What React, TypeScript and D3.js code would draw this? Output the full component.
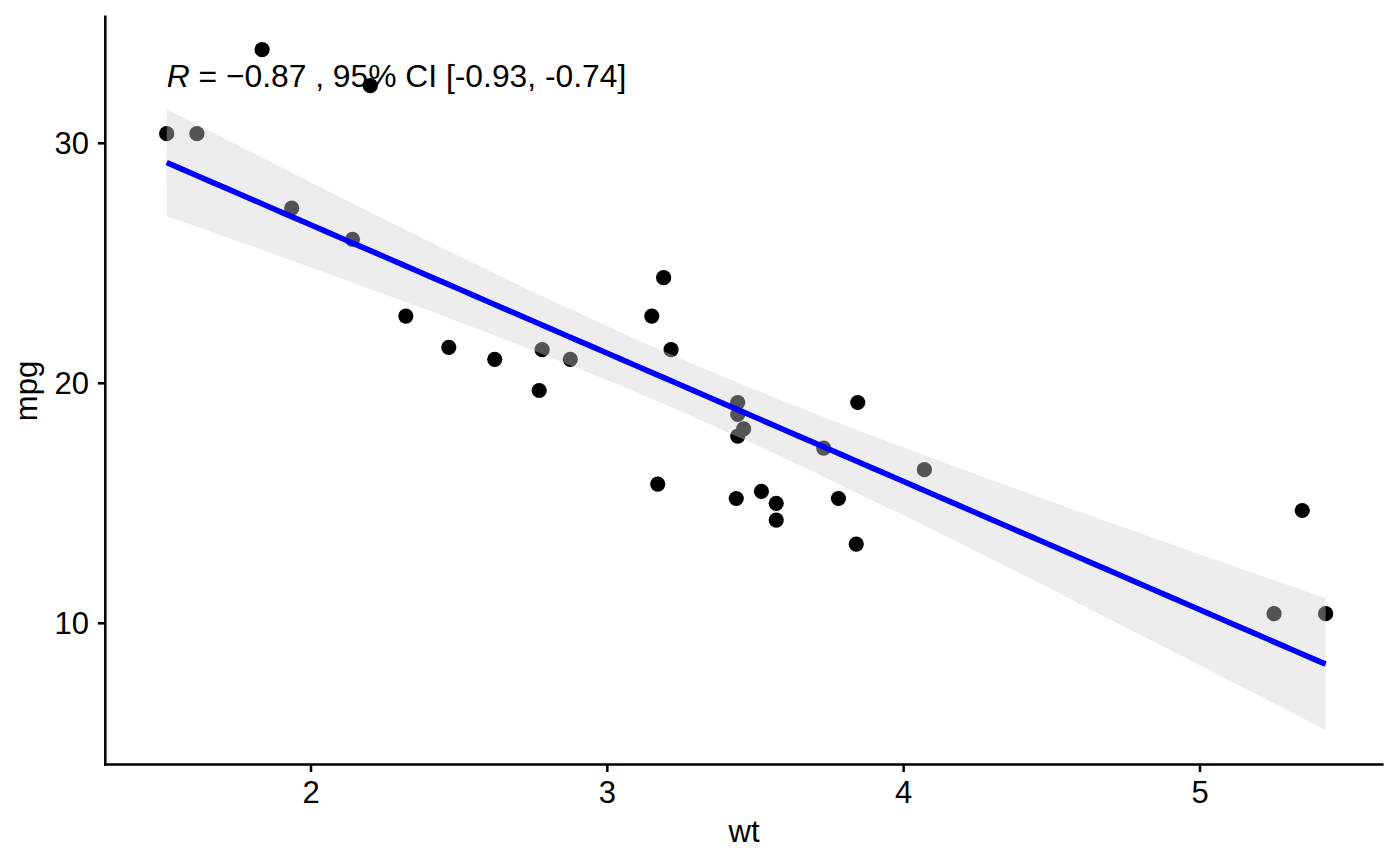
import React from "react";
import * as d3 from "d3";

const wt = [2.62, 2.875, 2.32, 3.215, 3.44, 3.46, 3.57, 3.19, 3.15, 3.44, 3.44, 4.07, 3.73, 3.78, 5.25, 5.424, 5.345, 2.2, 1.615, 1.835, 2.465, 3.52, 3.435, 3.84, 3.845, 1.935, 2.14, 1.513, 3.17, 2.77, 3.57, 2.78];
const mpg = [21.0, 21.0, 22.8, 21.4, 18.7, 18.1, 14.3, 24.4, 22.8, 19.2, 17.8, 16.4, 17.3, 15.2, 10.4, 10.4, 14.7, 32.4, 30.4, 33.9, 21.5, 15.5, 15.2, 13.3, 19.2, 27.3, 26.0, 30.4, 15.8, 19.7, 15.0, 21.4];
const xTicks = [2, 3, 4, 5];
const yTicks = [10, 20, 30];
const corLabelRest = " = \u22120.87 , 95% CI [-0.93, -0.74]";

const W = 1400;
const H = 866;
const FONT = "'Liberation Sans', Arial, Helvetica, sans-serif";

export default function App() {
  const x = d3.scaleLinear().domain([2, 5]).range([311, 1200]);
  const y = d3.scaleLinear().domain([10, 30]).range([623.3, 143.3]);
  const left = 105.3, right = 1383.6, top = 15.5, bottom = 764.5;

  // linear regression with 95% confidence band (as geom_smooth(method = "lm"))
  const n = wt.length;
  const mx = d3.mean(wt)!;
  const my = d3.mean(mpg)!;
  let sxx = 0, sxy = 0;
  for (let i = 0; i < n; i++) {
    sxx += (wt[i] - mx) ** 2;
    sxy += (wt[i] - mx) * (mpg[i] - my);
  }
  const b = sxy / sxx;
  const a = my - b * mx;
  let sse = 0;
  for (let i = 0; i < n; i++) sse += (mpg[i] - (a + b * wt[i])) ** 2;
  const s = Math.sqrt(sse / (n - 2));
  const tq = 2.042272;
  const [x0, x1] = d3.extent(wt) as [number, number];
  const grid = d3.range(80).map((i) => x0 + ((x1 - x0) * i) / 79);
  const fit = grid.map((g) => {
    const f = a + b * g;
    const se = s * Math.sqrt(1 / n + (g - mx) ** 2 / sxx);
    return { g, f, lo: f - tq * se, hi: f + tq * se };
  });
  const area = d3
    .area<(typeof fit)[number]>()
    .x((d) => x(d.g))
    .y0((d) => y(d.lo))
    .y1((d) => y(d.hi));
  const line = d3
    .line<(typeof fit)[number]>()
    .x((d) => x(d.g))
    .y((d) => y(d.f));

  return (
    <svg
      width={W}
      height={H}
      style={{ position: "absolute", left: 0, top: 0, background: "#fff" }}
      fontFamily={FONT}
    >
      <rect x={0} y={0} width={W} height={H} fill="#fff" />
      {wt.map((w, i) => (
        <circle key={i} cx={x(w)} cy={y(mpg[i])} r={7.6} fill="#000" />
      ))}
      <path d={area(fit)!} fill="#d3d3d3" fillOpacity={0.4} />
      <path d={line(fit)!} fill="none" stroke="#0000ff" strokeWidth={5.6} />

      {/* axes */}
      <line x1={left} x2={left} y1={top} y2={bottom + 1.2} stroke="#000" strokeWidth={2.5} />
      <line x1={left - 1.2} x2={right} y1={bottom} y2={bottom} stroke="#000" strokeWidth={2.5} />
      {xTicks.map((t) => (
        <g key={t}>
          <line x1={x(t)} x2={x(t)} y1={bottom} y2={bottom + 7.5} stroke="#000" strokeWidth={2.5} />
          <text x={x(t)} y={803} textAnchor="middle" fontSize={31} fill="#000">
            {t}
          </text>
        </g>
      ))}
      {yTicks.map((t) => (
        <g key={t}>
          <line x1={left - 7.5} x2={left} y1={y(t)} y2={y(t)} stroke="#000" strokeWidth={2.5} />
          <text x={89} y={y(t) + 11} textAnchor="end" fontSize={31} fill="#000">
            {t}
          </text>
        </g>
      ))}
      <text x={744} y={842} textAnchor="middle" fontSize={31} fill="#000">
        wt
      </text>
      <text
        transform={`translate(37,391) rotate(-90)`}
        textAnchor="middle"
        fontSize={31}
        fill="#000"
      >
        mpg
      </text>

      <text x={x(x0)} y={87} fontSize={31.8} fill="#000">
        <tspan fontStyle="italic">R</tspan>
        <tspan>{corLabelRest}</tspan>
      </text>
    </svg>
  );
}
